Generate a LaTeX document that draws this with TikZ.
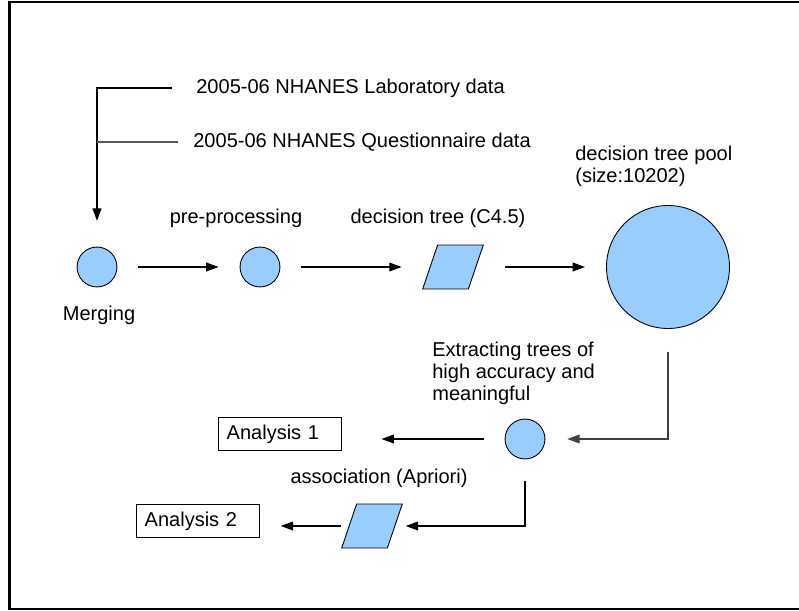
\documentclass[tikz,border=0pt]{standalone}
\usepackage{fontspec}
\setmainfont{Liberation Sans}
\usetikzlibrary{positioning,arrows.meta}
\definecolor{paleblue}{RGB}{153,204,255}

\begin{document}
\begin{tikzpicture}[x=0.02cm,y=-0.02cm,
  font=\fontsize{11.4}{12.5}\selectfont,
  every node/.style={inner sep=0pt},
  dot/.style={draw, circle, fill=paleblue, minimum size=22.7pt, line width=0.5pt},
  slab/.style={draw, rectangle, xslant=0.34, transform shape,
    fill=paleblue, minimum width=26pt, minimum height=25pt, line width=0.5pt},
  result/.style={draw, rectangle, text width=60.7pt, align=left, inner xsep=4.5pt,
    minimum height=18.7pt, line width=0.5pt},
  flow/.style={-{Triangle[length=7pt,width=5pt]}, line width=0.6pt, shorten <=12pt, shorten >=12pt}
]
\useasboundingbox (0,0) rectangle (799,611);

% frame (left, top and bottom only)
\draw[line width=1.6pt] (799,2) -- (9.5,2) -- (9.5,609) -- (799,609);

% data sources
\node[anchor=west] (lab) at (196,88) {2005-06 NHANES Laboratory data};
\node[anchor=west] (quest) at (193,142) {2005-06 NHANES Questionnaire data};

% main row
\node[dot] (merge) at (97,267) {};
\node (mergelbl) at (99,315) {Merging};
\node[dot] (prep) at (260,267) {};
\node (preplbl) at (236,218) {pre-processing};
\node[slab] (dtree) at (453,267) {};
\node (dtreelbl) at (438,218) {decision tree (C4.5)};
\node[draw, circle, fill=paleblue, minimum size=70pt, line width=0.5pt] (pool) at (668,267) {};
\node[anchor=west, align=left] (poollbl) at (575,166) {decision tree pool\\(size:10202)};

% lower part
\node[dot] (extract) at (525,439) {};
\node[anchor=west, align=left] (extractlbl) at (432,373) {Extracting trees of\\high accuracy and\\meaningful};
\node[result] (anaA) at (280,434) {Analysis 1};
\node[slab] (assoc) at (372,526) {};
\node (assoclbl) at (379,478) {association (Apriori)};
\node[result] (anaB) at (198,521) {Analysis 2};

% connectors
\draw[flow, shorten <=13.6pt, shorten >=14.7pt] (lab.west) -| (merge.north);
\draw[black!65, line width=0.6pt, shorten <=8.5pt] (quest.west) -- (quest.west -| merge);
\draw[flow] (merge) -- (prep);
\draw[flow, shorten >=16pt] (prep) -- (dtree.west);
\draw[flow, shorten <=16.4pt] (dtree.east) -- (pool);
\draw[flow, black!75, shorten <=13pt, shorten >=12.5pt] (pool.south) |- (extract.east);
\draw[flow, shorten >=22.7pt] (extract.west) -- (extract.west -| anaA.east);
\draw[flow, shorten <=12.5pt, shorten >=6pt] (extract.south) |- (assoc.east);
\draw[flow, shorten <=4.5pt] (assoc.west) -- (assoc.west -| anaB.east);
\end{tikzpicture}
\end{document}
